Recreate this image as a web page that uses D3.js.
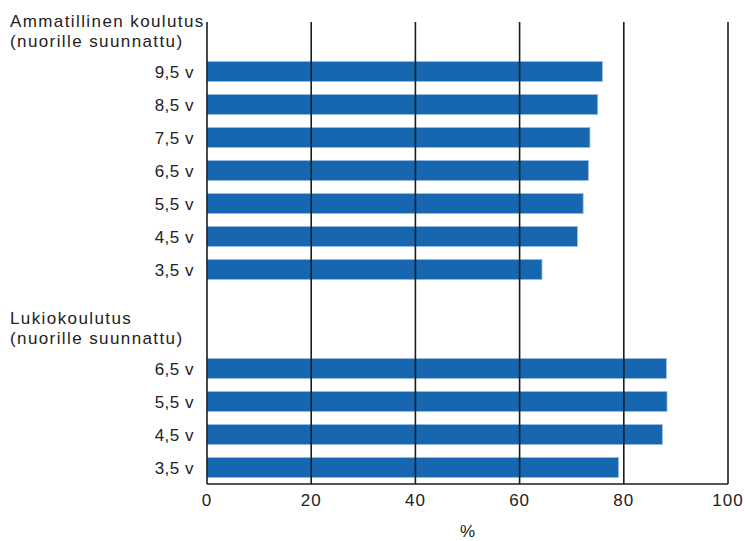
<!DOCTYPE html>
<html>
<head>
<meta charset="utf-8">
<script src="https://cdn.jsdelivr.net/npm/d3@7"></script>
<style>
    body { margin: 0; background: #fff; }
    svg { display: block; font-family: "Liberation Sans", Arial, sans-serif; }
</style>
</head>
<body>
<div id="chart"></div>
<script>

let groupNames = [
    ["Ammatillinen koulutus", "(nuorille suunnattu)"],
    ["Lukiokoulutus", "(nuorille suunnattu)"]
];
let vocLabels = ["9,5 v", "8,5 v", "7,5 v", "6,5 v", "5,5 v", "4,5 v", "3,5 v"];
let vocValues = [75.9, 75.0, 73.5, 73.2, 72.2, 71.1, 64.3];
let lukioLabels = ["6,5 v", "5,5 v", "4,5 v", "3,5 v"];
let lukioValues = [88.2, 88.3, 87.4, 79.0];
let xTicks = [0, 20, 40, 60, 80, 100];
let xTitle = "%";

let width = 745;
let height = 541;
let margin = { top: 22, right: 17, bottom: 57, left: 207 };

// one slot per row, header rows included, so both groups share the same band step
let rows = [{ key: "head0", header: 0 }];
vocLabels.forEach((label, i) => rows.push({ key: "voc" + i, label, value: vocValues[i] }));
rows.push({ key: "gap0" });
rows.push({ key: "head1", header: 1 });
lukioLabels.forEach((label, i) => rows.push({ key: "luk" + i, label, value: lukioValues[i] }));

let x = d3.scaleLinear()
    .domain([0, 100])
    .range([margin.left, width - margin.right]);

let y = d3.scaleBand()
    .domain(rows.map(d => d.key))
    .range([margin.top, height - margin.bottom])
    .paddingInner(0.39)
    .paddingOuter(0.195);

let svg = d3.select("#chart").append("svg")
    .attr("width", width)
    .attr("height", height);

let bars = rows.filter(d => d.value !== undefined);

svg.append("g")
    .selectAll("rect")
    .data(bars)
    .join("rect")
    .attr("x", x(0))
    .attr("y", d => y(d.key))
    .attr("width", d => x(d.value) - x(0))
    .attr("height", y.bandwidth())
    .attr("fill", "#1767b0")
    .attr("stroke", "#9dbfe3")
    .attr("stroke-width", 0.8);

// gridlines sit on top of the bars
svg.append("g")
    .selectAll("line")
    .data(xTicks.filter(t => t > 0))
    .join("line")
    .attr("x1", d => x(d))
    .attr("x2", d => x(d))
    .attr("y1", margin.top)
    .attr("y2", height - margin.bottom)
    .attr("stroke", "#1c1c1c")
    .attr("stroke-width", 1.6);

// left and bottom axis lines
svg.append("line")
    .attr("x1", x(0)).attr("x2", x(0))
    .attr("y1", margin.top).attr("y2", height - margin.bottom)
    .attr("stroke", "#1c1c1c").attr("stroke-width", 1.6);

svg.append("line")
    .attr("x1", x(0)).attr("x2", x(100))
    .attr("y1", height - margin.bottom).attr("y2", height - margin.bottom)
    .attr("stroke", "#1c1c1c").attr("stroke-width", 1.6);

svg.append("g")
    .selectAll("text")
    .data(xTicks)
    .join("text")
    .attr("x", d => x(d))
    .attr("y", height - margin.bottom + 22)
    .attr("text-anchor", "middle")
    .attr("font-size", "17px")
    .attr("letter-spacing", "1px")
    .attr("fill", "#222")
    .text(d => d);

svg.append("text")
    .attr("x", (x(0) + x(100)) / 2)
    .attr("y", height - 4)
    .attr("text-anchor", "middle")
    .attr("font-size", "17px")
    .attr("fill", "#222")
    .text(xTitle);

svg.append("g")
    .selectAll("text")
    .data(bars)
    .join("text")
    .attr("x", x(0) - 13)
    .attr("y", d => y(d.key) + y.bandwidth() / 2 + 6)
    .attr("text-anchor", "end")
    .attr("font-size", "17px")
    .attr("letter-spacing", "0.5px")
    .attr("fill", "#222")
    .text(d => d.label);

rows.filter(d => d.header !== undefined).forEach(d => {
    let cy = y(d.key) + y.bandwidth() / 2;
    svg.append("text")
        .attr("x", 10)
        .attr("y", cy - 12)
        .attr("font-size", "17px")
        .attr("letter-spacing", "1.4px")
        .attr("fill", "#222")
        .selectAll("tspan")
        .data(groupNames[d.header])
        .join("tspan")
        .attr("x", 10)
        .attr("dy", (_, i) => i === 0 ? 0 : 20)
        .text(t => t);
});

</script>
</body>
</html>
